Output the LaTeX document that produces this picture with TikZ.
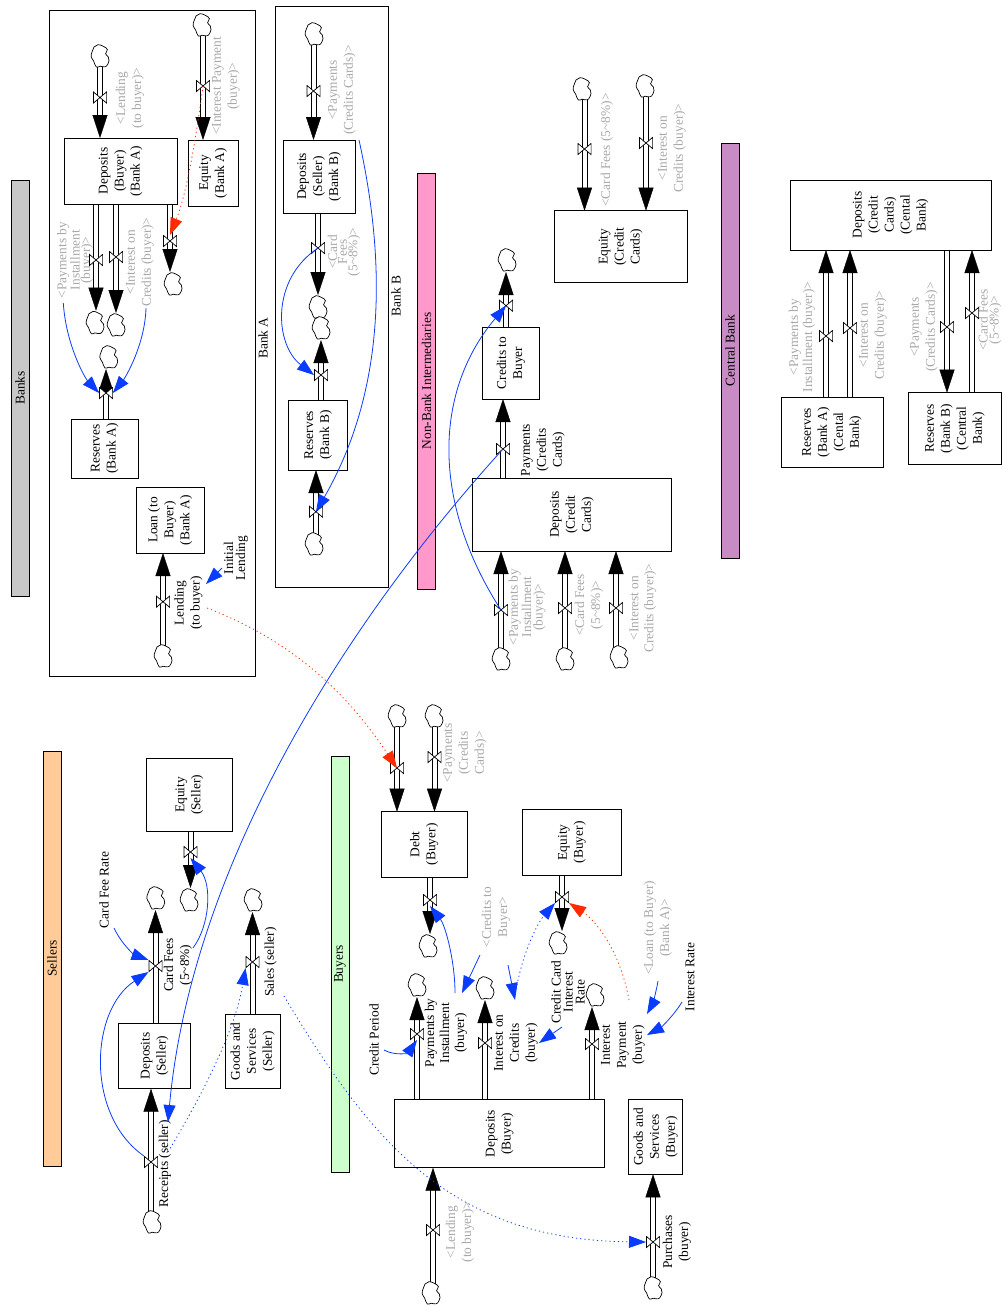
\documentclass[tikz,border=0pt]{standalone}
\usepackage{fontspec}
\setmainfont{Liberation Serif}
\usetikzlibrary{arrows.meta}
\definecolor{linkblue}{HTML}{0A3CFF}
\definecolor{linkred}{HTML}{FF2A00}
\definecolor{ghost}{HTML}{A8A8A8}
\pgfdeclarelayer{pipes}
\pgfsetlayers{pipes,main}
\tikzset{
	every node/.style={font=\fontsize{13.4}{16}\selectfont},
	stock/.style={draw,line width=.8pt,rotate=90,align=center,inner sep=0pt,outer sep=0pt},
	sector/.style={draw,line width=.8pt,rotate=90,inner sep=0pt,outer sep=0pt,minimum height=18pt},
	frame/.style={draw,line width=.8pt,inner sep=0pt,outer sep=0pt},
	lbl/.style={rotate=90,align=center,inner sep=0pt},
	cloudlet/.style={inner sep=0pt,outer sep=0pt,minimum width=20pt,minimum height=24pt,
		path picture={\draw[fill=white,line width=.7pt] plot[smooth cycle,tension=.75] coordinates {
			(-3.7,11) (0,10.2) (3,10.8) (6.6,10) (9,4.5) (8.3,1) (5.6,-2.3) (7.4,-6.5) (3,-9.8) (-2,-11.3) (-6,-9) (-7.6,-5) (-8.9,.3) (-6.4,5)};}},
	valve/.style={inner sep=0pt,outer sep=0pt,minimum width=14pt,minimum height=12pt,
		path picture={\draw[fill=white,line width=.7pt] (-6.6pt,-5.6pt) -- (6.6pt,5.6pt) -- (6.6pt,-5.6pt) -- (-6.6pt,5.6pt) -- cycle;}},
	pipe/.style={draw,line width=.8pt,shorten >=18pt},
	head/.style={draw=white,line width=.4pt,-{Triangle[length=23pt,width=15pt,color=black]}},
	sparse/.style={dash pattern=on 1.2pt off 3pt},
	link/.style={draw=linkblue,line width=.8pt,-{Triangle[length=17pt,width=12pt,fill=linkblue]}},
	redlink/.style={draw=linkred,line width=.8pt,sparse,-{Triangle[length=17pt,width=12pt,fill=linkred]}}
}
\newcommand{\flowline}[2]{
	\begin{pgfonlayer}{pipes}
		\draw[pipe] ([xshift=-2.5pt]#1) -- ([xshift=-2.5pt]#2);
		\draw[pipe] ([xshift=2.5pt]#1) -- ([xshift=2.5pt]#2);
		\draw[head] (#1) -- (#2);
	\end{pgfonlayer}
}
\begin{document}
\begin{tikzpicture}[x=1pt,y=-1pt]
	\useasboundingbox (0,0) rectangle (1006,1306);

	% bars and bank frames
	\foreach \n/\x/\ya/\yb/\c/\t in {
		banks/20/180/596/C8C8C8/Banks,
		sellers/52/751/1166/FFCC99/Sellers,
		buyers/340/756/1172/CCFFCC/Buyers,
		nonbank/426.5/173/589/FF99CC/Non-Bank Intermediaries,
		central/730/143/558/C78CC4/Central Bank}{
		\definecolor{barfill}{HTML}{\c}
		\node[sector,fill=barfill,minimum width={\yb-\ya}] (\n) at ({\x},{(\ya+\yb)/2}) {\t};
	}
	\node[frame,minimum width=206pt,minimum height=666pt] (frameA) at (152,343) {};
	\node[frame,minimum width=113pt,minimum height=581pt] (frameB) at (331.5,296.5) {};
	\node[lbl] (bankA) at (263,338) {Bank A};
	\node[lbl] (bankB) at (396,296) {Bank B};

	% stocks, by their corners
	\foreach \n/\xa/\ya/\xb/\yb/\t in {
		depBuyA/64/138/177/204/{Deposits\\(Buyer)\\(Bank A)},
		eqA/188/140/238/206/{Equity\\(Bank A)},
		depSelB/283/140/355/213/{Deposits\\(Seller)\\(Bank B)},
		resA/71/419/138.5/478/{Reserves\\(Bank A)},
		loanA/136.5/487/204/553/{Loan (to\\Buyer)\\(Bank A)},
		resB/288.7/400/347.7/470/{Reserves\\(Bank B)},
		credB/482.7/327/539/399/{Credits to\\Buyer},
		depCC/472.7/478/671/551/{Deposits\\(Credit\\Cards)},
		eqCC/554/210.7/687/282.7/{Equity\\(Credit\\Cards)},
		depCB/790/180/991/250/{Deposits\\(Credit\\Cards)\\(Cental\\Bank)},
		resACB/781/397/883/467/{Reserves\\(Bank A)\\(Cental\\Bank)},
		resBCB/908.7/392.7/1001/464/{Reserves\\(Bank B)\\(Central\\Bank)},
		eqS/146.3/758.7/232.3/831/{Equity\\(Seller)},
		depS/118.3/1023/190.7/1088.7/{Deposits\\(Seller)},
		goodsS/225.3/1014/280/1088.7/{Goods and\\Services\\(Seller)},
		debtB/381.3/811.7/467/877/{Debt\\(Buyer)},
		eqB/522.3/809.7/621.7/875/{Equity\\(Buyer)},
		depB/394.7/1099.7/604.7/1167.7/{Deposits\\(Buyer)},
		goodsB/628.7/1099.7/682.7/1174.3/{Goods and\\Services\\(Buyer)}}{
		\node[stock,minimum width={\yb-\ya},minimum height={\xb-\xa}] (\n) at ({(\xa+\xb)/2},{(\ya+\yb)/2}) {\t};
	}

	% flow labels
	\foreach \n/\x/\y/\s/\t in {
		lendA/188.5/603/16/{Lending\\(to buyer)},
		initL/236/558/12/{Initial\\Lending},
		payCC/543/450/16/{Payments\\(Credits\\Cards)},
		feesS/178/965/16/{Card Fees\\(5\textasciitilde 8\%)},
		feeRate/104/890/16/{Card Fee Rate},
		recS/165/1164/16/{Receipts (seller)},
		salesS/270.7/962/16/{Sales (seller)},
		creditP/374/1040/16/{Credit Period},
		payB/446/1033/15/{Payments by\\Installment\\(buyer)},
		intB/516/1043/16/{Interest on\\Credits\\(buyer)},
		ipayB/623/1045/16/{Interest\\Payment\\(buyer)},
		cardRate/568/992/12/{Credit Card\\Interest\\Rate},
		intRate/690/977/16/{Interest Rate},
		purchB/677/1242/16/{Purchases\\(buyer)}}{
		\node[lbl,font=\fontsize{13.4}{\s}\selectfont] (\n) at (\x,\y) {\t};
	}
	\foreach \n/\x/\y/\s/\t in {
		gLendA/130/98/16/{<Lending\\(to buyer)>},
		gIpayA/226/86/16/{<Interest Payment\\(buyer)>},
		gPayA/75/260/9/{<Payments by\\Installment\\(buyer)>},
		gIntA/140/262/16/{<Interest on\\Credits (buyer)>},
		gPayB/342/90/16/{<Payments\\(Credits Cards)>},
		gFeeB/344/252/8/{<Card\\Fees\\(5\textasciitilde 8\%)>},
		gPayCC/527/607/11.5/{<Payments by\\Installment\\(buyer)>},
		gFeeCC/589/605/16/{<Card Fees\\(5\textasciitilde 8\%)>},
		gIntCC/643/608/15/{<Interest on\\Credits (buyer)>},
		gFeeEq/607/150/16/{<Card Fees (5\textasciitilde 8\%)>},
		gIntEq/672/148/16/{<Interest on\\Credits (buyer)>},
		gPayCB/802/337/14/{<Payments by\\Installment (buyer)>},
		gIntCB/873/335/16/{<Interest on\\Credits (buyer)>},
		gPayBCB/924/327/16/{<Payments\\(Credits Cards)>},
		gFeeCB/990/320/11/{<Card Fees\\(5\textasciitilde 8\%)>},
		gPayDebt/465/753/16/{<Payments\\(Credits\\Cards)>},
		gCredB/496/917/16/{<Credits to\\Buyer>},
		gLoanB/658/928/16/{<Loan (to Buyer)\\(Bank A)>},
		gLendB/460/1232/16/{<Lending\\(to buyer)>}}{
		\node[lbl,text=ghost,font=\fontsize{13.4}{\s}\selectfont] (\n) at (\x,\y) {\t};
	}

	% flows: valve, cloud, stock
	\foreach \n/\vx/\vy/\cx/\cy/\s in {
		inLendA/100/97.5/100/56/depBuyA,
		inIpayA/203/86/202/25/eqA,
		inPayB/313.5/91/314/34/depSelB,
		inFeeEq/584.5/149/582/89/eqCC,
		inIntEq/646/143/645/86/eqCC,
		inLoanD/397/768/397/716/debtB,
		inPayD/434.5/757/434/716/debtB}{
		\node[valve] (v\n) at (\vx,\vy) {};
		\node[cloudlet] (c\n) at (\cx,\cy) {};
		\flowline{v\n|-c\n}{v\n|-\s.east}
	}
	\foreach \n/\vx/\vy/\cx/\cy/\s in {
		inLoanA/163/601.7/163/656/loanA,
		inResB/316/511.7/314/544/resB,
		inPayCC/501/610/501/659/depCC,
		inFeeCC/565/608/565/659/depCC,
		inIntCC/616/608/619/657/depCC,
		inRec/151/1162/152/1222/depS,
		inLendB/433/1230/431/1293/depB,
		inPurch/653/1242/653/1288/goodsB}{
		\node[valve] (v\n) at (\vx,\vy) {};
		\node[cloudlet] (c\n) at (\cx,\cy) {};
		\flowline{v\n|-c\n}{v\n|-\s.west}
	}
	\foreach \n/\vx/\vy/\cx/\cy/\s in {
		outPayA/96/260/95/322.7/depBuyA,
		outIntA/116/257/116/325/depBuyA,
		outIpayA/170/241/173/284/depBuyA,
		outFeeB/318/248/318/307/depSelB,
		outEqS/190.5/852/189/900/eqS,
		outDebt/430/900/428/946/debtB,
		outEqB/562/897/558/943/eqB}{
		\node[valve] (v\n) at (\vx,\vy) {};
		\node[cloudlet] (c\n) at (\cx,\cy) {};
		\flowline{v\n|-\s.west}{v\n|-c\n.north}
	}
	\foreach \n/\vx/\vy/\cx/\cy/\s in {
		upResA/106/393/108.7/357/resA,
		upResB/321/375/321/328/resB,
		upCred/506/305.7/507/260/credB,
		upFeeS/155.5/966/155.7/898/depS,
		upSales/252.5/962/253/900/goodsS,
		upPayB/417/1034/417/985/depB,
		upIntB/485/1043/485/988/depB,
		upIpayB/592/1044/595/995/depB}{
		\node[valve] (v\n) at (\vx,\vy) {};
		\node[cloudlet] (c\n) at (\cx,\cy) {};
		\flowline{v\n|-\s.east}{v\n|-c\n.south}
	}
	% flows between two stocks
	\foreach \n/\vx/\vy in {payCards/503/449, payInst/826/336, intCred/850/328, payCB/947/327, feeCB/972/313}{
		\node[valve] (v\n) at (\vx,\vy) {};
	}
	\flowline{vpayCards|-depCC.east}{vpayCards|-credB.west}
	\flowline{vpayInst|-resACB.east}{vpayInst|-depCB.west}
	\flowline{vintCred|-resACB.east}{vintCred|-depCB.west}
	\flowline{vpayCB|-depCB.west}{vpayCB|-resBCB.east}
	\flowline{vfeeCB|-resBCB.east}{vfeeCB|-depCB.west}

	% free ends of the links
	\foreach \n/\x/\y in {
		gPayA-o/63.3/303, gIntA-o/146/308, initL-o/222/568, lendA-i/206/584, lendA-o/207/608,
		gPayB-o/359/140, feeRate-o/114/928, feesS-o/193/948, recS-o/168/1152, recS-i/168/1122,
		salesS-o/284/996, creditP-o/384/1050, payB-o/455/993, gCredB-o/480/955, payB-i/462/993,
		gCredB-p/508/965, intB-i/515/1000, intB-o/517/985, cardRate-o/562/1027, intB-j/539/1043,
		gLoanB-o/658/981, ipayB-i/647/1014, intRate-o/682/1002, ipayB-j/647/1035, ipayB-o/629/1000}{
		\coordinate (\n) at (\x,\y);
	}

	\draw[link] (gPayA-o) .. controls (66,345) and (85,378) .. (vupResA.west);
	\draw[link] (gIntA-o) .. controls (145,345) and (125,378) .. (vupResA.east);
	\draw[link] (initL-o) -- (lendA-i);
	\draw[link] (voutFeeB.center) .. controls (270,280) and (275,345) .. (vupResB.west);
	\draw[link] (gPayB-o) .. controls (390,280) and (380,400) .. (vinResB.center);
	\draw[link] (vinPayCC.center) .. controls (430,500) and (435,390) .. (vupCred.center);
	\draw[link] (vpayCards.center) .. controls (330,640) and (190,880) .. (recS-i);
	\draw[link] (feeRate-o) .. controls (122,945) and (135,955) .. (vupFeeS.north west);
	\draw[link] (vinRec.north west) .. controls (85,1115) and (90,1010) .. (vupFeeS.south west);
	\draw[link] (feesS-o) .. controls (210,925) and (212,885) .. (voutEqS.south);
	\draw[link,sparse] (recS-o) .. controls (205,1090) and (235,1030) .. (vupSales.south west);
	\draw[link,sparse] (salesS-o) .. controls (370,1140) and (450,1240) .. (vinPurch.west);
	\draw[link] (creditP-o) .. controls (395,1056) and (408,1053) .. (vupPayB.south);
	\draw[link] (payB-o) .. controls (455,960) and (445,925) .. (voutDebt.south);
	\draw[link] (gCredB-o) -- (payB-i);
	\draw[link] (gCredB-p) -- (intB-i);
	\draw[link,sparse] (intB-o) .. controls (525,945) and (540,920) .. (voutEqB.south west);
	\draw[link] (cardRate-o) -- (intB-j);
	\draw[link] (gLoanB-o) .. controls (656,993) and (652,1005) .. (ipayB-i);
	\draw[link] (intRate-o) .. controls (672,1018) and (660,1028) .. (ipayB-j);

	\draw[redlink] (vinIpayA.center) .. controls (197,130) and (188,190) .. (voutIpayA.north);
	\draw[redlink] (lendA-o) .. controls (290,640) and (345,690) .. (vinLoanD.center);
	\draw[redlink] (ipayB-o) .. controls (620,950) and (595,920) .. (voutEqB.south east);
\end{tikzpicture}
\end{document}
